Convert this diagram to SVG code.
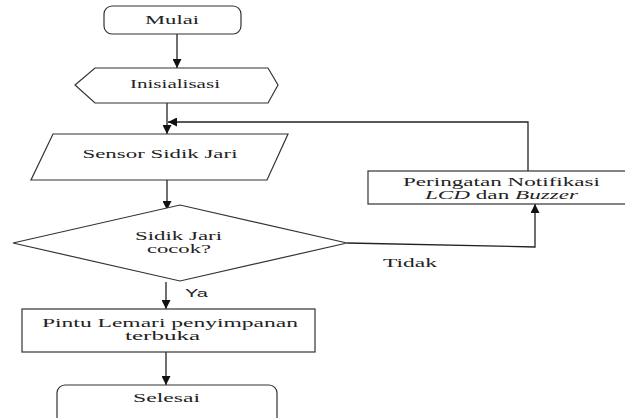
<svg xmlns="http://www.w3.org/2000/svg" width="625" height="418" viewBox="0 0 625 418">
<style>
.s{fill:#fff;stroke:#333;stroke-width:1.2}
.c{fill:none;stroke:#222;stroke-width:1.3}
.t{font-size:12.5px;fill:#222;text-anchor:middle}
.a{font-size:11px;fill:#222}
</style>
<defs>
<marker id="ah" viewBox="0 0 10 10" refX="10" refY="5" markerWidth="9" markerHeight="9" markerUnits="userSpaceOnUse" orient="auto">
<path d="M0,0 L10,5 L0,10 z" fill="#111"/>
</marker>
</defs>
<rect width="625" height="418" fill="#fff"/>
<g id="connectors">
<line class="c" x1="177" y1="34" x2="177" y2="68" marker-end="url(#ah)"/>
<line class="c" x1="167" y1="103" x2="167" y2="134" marker-end="url(#ah)"/>
<polyline class="c" points="528,171 528,122 168,122" marker-end="url(#ah)"/>
<line class="c" x1="167" y1="180" x2="167" y2="210" marker-end="url(#ah)"/>
<polyline class="c" points="347,243 535,247 535,204" marker-end="url(#ah)"/>
<line class="c" x1="166" y1="282" x2="166" y2="309" marker-end="url(#ah)"/>
<line class="c" x1="166" y1="352" x2="166" y2="385" marker-end="url(#ah)"/>
</g>
<g font-family="Times New Roman, Liberation Serif, DejaVu Serif, serif">
<g id="mulai">
<rect class="s" x="104" y="6" width="137" height="28" rx="8"/>
<text class="t" x="172" y="24" textLength="54" lengthAdjust="spacingAndGlyphs">Mulai</text>
</g>
<g id="inisialisasi">
<polygon class="s" points="75,85 95,68 268,68 278,85 268,103 95,103"/>
<text class="t" x="175" y="88" textLength="90" lengthAdjust="spacingAndGlyphs">Inisialisasi</text>
</g>
<g id="sensor">
<polygon class="s" points="53,134 288,134 267,180 31,180"/>
<text class="t" x="160" y="158" textLength="155" lengthAdjust="spacingAndGlyphs">Sensor Sidik Jari</text>
</g>
<g id="cocok">
<polygon class="s" points="13,243 180,205 347,243 180,281"/>
<text class="t" x="178.5" y="240" textLength="87" lengthAdjust="spacingAndGlyphs">Sidik Jari</text>
<text class="t" x="179" y="253" textLength="64" lengthAdjust="spacingAndGlyphs">cocok?</text>
</g>
<g id="peringatan">
<rect class="s" x="368" y="171" width="266" height="33"/>
<text class="t" x="501.5" y="186" textLength="197" lengthAdjust="spacingAndGlyphs">Peringatan Notifikasi</text>
<text class="t" x="501.5" y="199" textLength="153" lengthAdjust="spacingAndGlyphs"><tspan font-style="italic">LCD</tspan> dan <tspan font-style="italic">Buzzer</tspan></text>
</g>
<text class="t" x="410" y="267" textLength="54" lengthAdjust="spacingAndGlyphs">Tidak</text>
<g id="pintu">
<rect class="s" x="22" y="309" width="293" height="43"/>
<text class="t" x="170" y="327" textLength="256" lengthAdjust="spacingAndGlyphs">Pintu Lemari penyimpanan</text>
<text class="t" x="162.5" y="340" textLength="75" lengthAdjust="spacingAndGlyphs">terbuka</text>
</g>
<g id="selesai">
<rect class="s" x="57" y="385" width="220" height="45" rx="8"/>
<text class="t" x="166.5" y="402" textLength="67" lengthAdjust="spacingAndGlyphs">Selesai</text>
</g>
</g>
<text class="a" font-family="Liberation Sans, Arial, sans-serif" x="185" y="297" textLength="23" lengthAdjust="spacingAndGlyphs">Ya</text>
</svg>
